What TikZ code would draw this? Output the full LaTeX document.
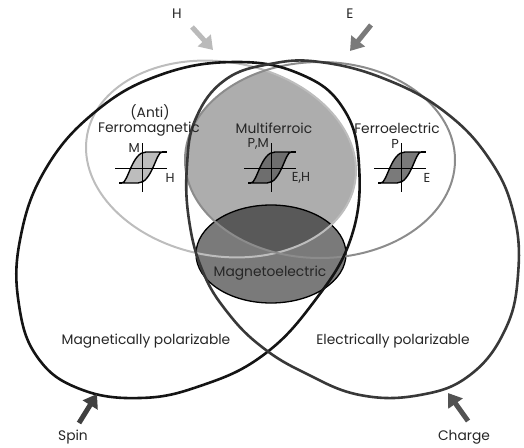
\documentclass[tikz,border=0pt]{standalone}
\usepackage{fontspec}
\setmainfont{Poppins}
\usetikzlibrary{positioning,arrows.meta}

\definecolor{fmgray}{HTML}{BDBDBD}
\definecolor{fegray}{HTML}{8C8C8C}
\definecolor{mfgray}{HTML}{ADADAD}
\definecolor{megray}{HTML}{7A7A7A}
\definecolor{bothgray}{HTML}{595959}

% one hysteresis icon: centre x, centre y, loop fill
\newcommand{\hystloop}[3]{%
  \begin{scope}[shift={(#1,#2)}]
    \filldraw[loop, fill=#3] (-20,15) .. controls (-14,15) and (-10,-16) .. (4,-16)
      -- (20,-16) .. controls (14,-16) and (10,15) .. (-4,15) -- cycle;
    \draw[loop] (-23,15) -- (-20,15);
    \draw[loop] (20,-16) -- (25,-16);
    \draw[axis] (-27,0) -- (25,0);
    \draw[axis] (0,-25) -- (0,24);
  \end{scope}}

\begin{document}
\begin{tikzpicture}[x=1pt,y=-1pt,line join=round]
    \tikzstyle{txt}=[font=\fontsize{13.8}{16}\selectfont,text=black!85,inner sep=0pt]
    \tikzstyle{axislabel}=[font=\fontsize{13}{15}\selectfont,text=black!85,inner sep=0pt]
    \tikzstyle{spin line}=[draw=black!92,line width=2.6pt]
    \tikzstyle{charge line}=[draw=black!78,line width=2.6pt]
    \tikzstyle{fm line}=[draw=fmgray,line width=2pt]
    \tikzstyle{fe line}=[draw=fegray,line width=2pt]
    \tikzstyle{axis}=[black,line width=0.9pt]
    \tikzstyle{loop}=[black,line width=1.4pt]
    \tikzstyle{field}=[line width=5pt,-{Triangle[length=13pt,width=17pt]}]

    \useasboundingbox (0,0) rectangle (524,447);

    % multiferroic lens
    \begin{scope}
        \clip[rotate around={-10:(221,159)}] (221,159) ellipse [x radius=136, y radius=97];
        \fill[mfgray] (320,160) ellipse [x radius=135, y radius=98];
    \end{scope}

    % magnetoelectric
    \fill[megray] (271,254) ellipse [x radius=75, y radius=49];
    \begin{scope}
        \clip[rotate around={-10:(221,159)}] (221,159) ellipse [x radius=136, y radius=97];
        \clip (320,160) ellipse [x radius=135, y radius=98];
        \fill[bothgray] (271,254) ellipse [x radius=75, y radius=49];
    \end{scope}
    \draw[black,line width=1.3pt] (271,254) ellipse [x radius=75, y radius=49];

    % ferromagnetic and ferroelectric
    \draw[fm line,rotate around={-10:(221,159)}] (221,159) ellipse [x radius=136, y radius=97];
    \draw[fe line] (320,160) ellipse [x radius=135, y radius=98];

    % magnetically and electrically polarizable
    \draw[spin line] plot[smooth cycle,tension=0.7] coordinates {
        (235,62) (300,74) (343,108) (359,165) (351,238) (313,303) (262,356)
        (200,386) (140,398) (80,389) (38,358) (19,305) (20,240) (45,170)
        (95,112) (160,75)};
    \draw[charge line] plot[smooth cycle,tension=0.7] coordinates {
        (270,64) (320,62) (385,79) (445,112) (490,160) (514,215) (518,275)
        (505,330) (470,375) (420,395) (360,395) (305,373) (262,347) (228,313)
        (203,272) (189,220) (187,165) (196,118) (225,80)};

    % hysteresis loops
    \hystloop{142}{168}{fmgray}
    \hystloop{271}{168}{black!57}
    \hystloop{401}{168}{black!52}

    \node[txt] (anti) at (150,112) {(Anti)};
    \node[txt] (ferromag) at (149,129) {Ferromagnetic};
    \node[txt] (multi) at (274,128) {Multiferroic};
    \node[txt] (ferroel) at (397,128) {Ferroelectric};
    \node[txt] (magel) at (270,273) {Magnetoelectric};
    \node[txt] (magpol) at (146,341) {Magnetically polarizable};
    \node[txt] (elpol) at (393,341) {Electrically polarizable};

    \node[axislabel,anchor=east] (m) at (140,148) {M};
    \node[axislabel] (h) at (170,178) {H};
    \node[axislabel,anchor=east] (pm) at (269,144) {P,M};
    \node[axislabel] (eh) at (301,178) {E,H};
    \node[axislabel,anchor=east] (p) at (399,144) {P};
    \node[axislabel] (e) at (427,178) {E};

    % applied fields
    \node[txt] (hfield) at (177,14) {H};
    \node[txt] (efield) at (350,14) {E};
    \node[txt] (spin) at (73,437) {Spin};
    \node[txt] (charge) at (464,437) {Charge};

    \coordinate (h tail) at (192,27);
    \coordinate (h tip) at (213,50);
    \coordinate (e tail) at (371,25);
    \coordinate (e tip) at (350,51);
    \coordinate (spin tail) at (79,423);
    \coordinate (spin tip) at (97,394);
    \coordinate (charge tail) at (468,421);
    \coordinate (charge tip) at (448,393);

    \draw[field,draw=black!27,fill=black!27] (h tail) -- (h tip);
    \draw[field,draw=black!52,fill=black!52] (e tail) -- (e tip);
    \draw[field,draw=black!75,fill=black!75] (spin tail) -- (spin tip);
    \draw[field,draw=black!68,fill=black!68] (charge tail) -- (charge tip);
\end{tikzpicture}
\end{document}
